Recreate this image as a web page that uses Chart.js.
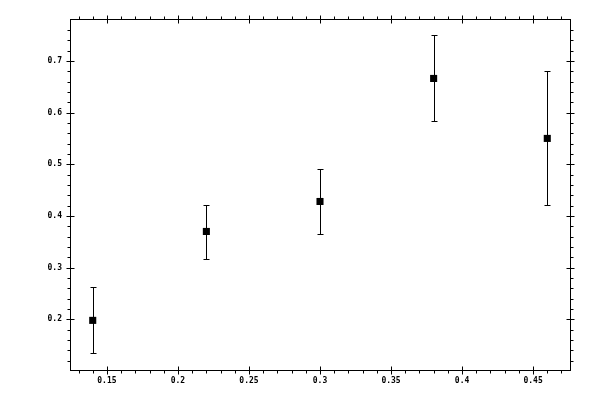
<!DOCTYPE html>
<html>
<head>
<meta charset="utf-8">
<script src="https://cdn.jsdelivr.net/npm/chart.js@4"></script>
<style>
  html, body { margin: 0; padding: 0; background: #fff; }
  #wrap { width: 600px; height: 400px; }
</style>
</head>
<body>
<div id="wrap"><canvas id="chart"></canvas></div>
<script>
const xValues = [0.14, 0.22, 0.30, 0.38, 0.46];
const yValues = [0.198, 0.370, 0.428, 0.666, 0.550];
const yLow = [0.134, 0.316, 0.366, 0.583, 0.421];
const yHigh = [0.262, 0.422, 0.491, 0.750, 0.681];

const xRange = [0.124, 0.476];
const yRange = [0.102, 0.781];
const xMajor = 0.05, xMinor = 0.01;
const yMajor = 0.1, yMinor = 0.02;

const tickFont = { family: "DejaVu Sans Mono", size: 8, weight: "bold" };

function stepsIn(min, max, step) {
  const out = [];
  const start = Math.ceil(min / step - 1e-9);
  for (let i = start; i * step <= max + 1e-9; i++) out.push(+(i * step).toFixed(4));
  return out;
}

// frame, error bars, tick marks on all four sides
const errorBars = {
  id: "errorBars",
  beforeDatasetsDraw(c) {
    const { ctx, scales: { x, y } } = c;
    ctx.save();
    ctx.strokeStyle = "#000";
    ctx.lineWidth = 1;
    xValues.forEach((xv, i) => {
      const px = Math.round(x.getPixelForValue(xv)) + 0.5;
      const lo = Math.round(y.getPixelForValue(yLow[i])) + 0.5;
      const hi = Math.round(y.getPixelForValue(yHigh[i])) + 0.5;
      ctx.beginPath();
      ctx.moveTo(px, lo); ctx.lineTo(px, hi);
      ctx.moveTo(px - 3, lo); ctx.lineTo(px + 3, lo);
      ctx.moveTo(px - 3, hi); ctx.lineTo(px + 3, hi);
      ctx.stroke();
    });
    ctx.restore();
  },
  afterDraw(c) {
    const { ctx, chartArea: a, scales: { x, y } } = c;
    const L = Math.round(a.left) + 0.5, R = Math.round(a.right) + 0.5;
    const T = Math.round(a.top) + 0.5, B = Math.round(a.bottom) + 0.5;
    ctx.save();
    ctx.strokeStyle = "#000";
    ctx.lineWidth = 1;
    ctx.strokeRect(L, T, R - L, B - T);
    ctx.beginPath();
    stepsIn(xRange[0], xRange[1], xMinor).forEach(v => {
      const px = Math.round(x.getPixelForValue(v)) + 0.5;
      if (px < L + 2 || px > R - 2) return;
      const major = Math.abs(v / xMajor - Math.round(v / xMajor)) < 1e-6;
      if (major) {
        ctx.moveTo(px, B - 4); ctx.lineTo(px, B + 4);
        ctx.moveTo(px, T - 4); ctx.lineTo(px, T + 4);
      } else {
        ctx.moveTo(px, B); ctx.lineTo(px, B + 3);
        ctx.moveTo(px, T); ctx.lineTo(px, T - 3);
      }
    });
    stepsIn(yRange[0], yRange[1], yMinor).forEach(v => {
      const py = Math.round(y.getPixelForValue(v)) + 0.5;
      if (py < T + 2 || py > B - 2) return;
      const major = Math.abs(v / yMajor - Math.round(v / yMajor)) < 1e-6;
      if (major) {
        ctx.moveTo(L - 4, py); ctx.lineTo(L + 4, py);
        ctx.moveTo(R - 4, py); ctx.lineTo(R + 4, py);
      } else {
        ctx.moveTo(L, py); ctx.lineTo(L - 3, py);
        ctx.moveTo(R, py); ctx.lineTo(R + 3, py);
      }
    });
    ctx.stroke();
    ctx.restore();
  }
};

new Chart(document.getElementById("chart"), {
  type: "scatter",
  data: {
    datasets: [{
      data: xValues.map((xv, i) => ({ x: xv, y: yValues[i] })),
      pointStyle: "rect",
      pointRadius: 5,
      pointHoverRadius: 5,
      backgroundColor: "#000",
      borderColor: "#000",
      borderWidth: 0
    }]
  },
  options: {
    responsive: true,
    maintainAspectRatio: false,
    animation: false,
    layout: { padding: { left: 0, right: 30, top: 19, bottom: 0 } },
    plugins: { legend: { display: false }, tooltip: { enabled: false } },
    scales: {
      x: {
        type: "linear",
        min: xRange[0],
        max: xRange[1],
        afterFit: s => { s.height = 30; },
        grid: { display: false, drawTicks: false },
        border: { display: false },
        ticks: {
          stepSize: xMajor,
          includeBounds: false,
          padding: 6,
          color: "#000",
          font: tickFont,
          maxRotation: 0,
          autoSkip: false,
          callback: v => String(+v.toFixed(2))
        }
      },
      y: {
        type: "linear",
        min: yRange[0],
        max: yRange[1],
        afterFit: s => { s.width = 70; },
        grid: { display: false, drawTicks: false },
        border: { display: false },
        ticks: {
          stepSize: yMajor,
          includeBounds: false,
          padding: 8,
          color: "#000",
          font: tickFont,
          autoSkip: false,
          callback: v => String(+v.toFixed(2))
        }
      }
    }
  },
  plugins: [errorBars]
});
</script>
</body>
</html>
